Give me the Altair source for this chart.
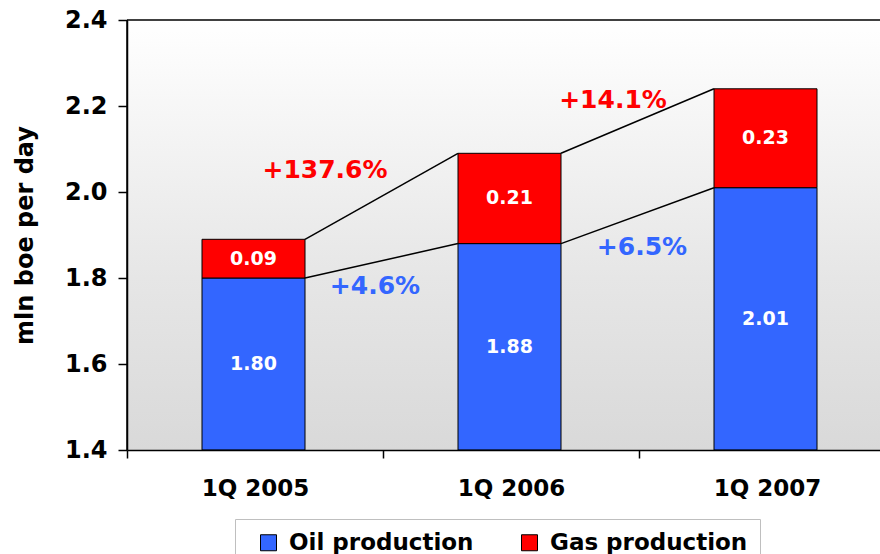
import altair as alt
import pandas as pd

# Production by quarter, mln boe per day
periods = ["1Q 2005", "1Q 2006", "1Q 2007"]
oil = [1.80, 1.88, 2.01]
gas = [0.09, 0.21, 0.23]
series_names = ["Oil production", "Gas production"]
y_ticks = [1.4, 1.6, 1.8, 2.0, 2.2, 2.4]

# Year-on-year growth callouts
gas_growth = ["+137.6%", "+14.1%"]
oil_growth = ["+4.6%", "+6.5%"]

Y_MIN, Y_MAX = 1.4, 2.4
BLUE = "#3366FF"
RED = "#FF0000"
FONT = "DejaVu Sans"
PLOT_W, PLOT_H = 753, 430
BAND_SPAN = 768          # three 256 px bands, the last one runs past the page edge
BAR_W = 103

rows = []
for p, o, g in zip(periods, oil, gas):
    rows.append(dict(period=p, series=series_names[0], lo=Y_MIN, hi=o,
                     label=f"{o:.2f}", mid=(Y_MIN + o) / 2))
    rows.append(dict(period=p, series=series_names[1], lo=o, hi=o + g,
                     label=f"{g:.2f}", mid=o + g / 2))
bars_df = pd.DataFrame(rows)

links = []
for i in range(len(periods) - 1):
    links.append(dict(p0=periods[i], p1=periods[i + 1], y0=oil[i], y1=oil[i + 1]))
    links.append(dict(p0=periods[i], p1=periods[i + 1],
                      y0=oil[i] + gas[i], y1=oil[i + 1] + gas[i + 1]))
links_df = pd.DataFrame(links)

x_scale = alt.Scale(domain=periods, range=[0, BAND_SPAN], paddingInner=0, paddingOuter=0)
y_scale = alt.Scale(domain=[Y_MIN, Y_MAX], nice=False, zero=False)

x_axis = alt.Axis(
    tickBand="extent", labelAngle=0, title=None, zindex=1,
    labelFont=FONT, labelFontSize=23, labelFontWeight="bold", labelColor="black",
    labelPadding=19, domainColor="black", domainWidth=1.5,
    tickColor="black", tickSize=8, tickWidth=1.5,
)
y_axis = alt.Axis(
    values=y_ticks, format=".1f", grid=False, zindex=1,
    labelFont=FONT, labelFontSize=24, labelFontWeight="bold", labelColor="black",
    labelPadding=11, domainColor="black", domainWidth=1.5,
    tickColor="black", tickSize=9, tickWidth=1.5,
    title="mln boe per day", titleFont=FONT, titleFontSize=24,
    titleFontWeight="bold", titleColor="black", titlePadding=27,
)

X = alt.X("period:N", scale=x_scale, axis=x_axis, title=None)

# plot-area shading, white at the top fading to light grey
background = alt.Chart(pd.DataFrame({"k": [0]})).mark_rect(
    color=alt.LinearGradient(
        gradient="linear", x1=0, x2=0, y1=0, y2=1,
        stops=[alt.GradientStop(color="#ffffff", offset=0),
               alt.GradientStop(color="#e6e6e6", offset=0.6),
               alt.GradientStop(color="#d9d9d9", offset=1)],
    )
).encode(x=alt.value(0), x2=alt.value(PLOT_W), y=alt.value(0), y2=alt.value(PLOT_H))

# frame lines: top edge and left edge of the plot area
top_line = alt.Chart(pd.DataFrame({"v": [Y_MAX]})).mark_rule(
    color="black", strokeWidth=1.5
).encode(y=alt.Y("v:Q", scale=y_scale, axis=y_axis))

left_line = alt.Chart(pd.DataFrame({"lo": [Y_MIN], "hi": [Y_MAX]})).mark_rule(
    color="black", strokeWidth=1.5
).encode(x=alt.value(0), y=alt.Y("lo:Q", scale=y_scale, axis=y_axis), y2="hi:Q")

bars = alt.Chart(bars_df).mark_bar(
    size=BAR_W, stroke="black", strokeWidth=1, xOffset=-1.5
).encode(
    x=X,
    y=alt.Y("lo:Q", scale=y_scale, axis=y_axis),
    y2="hi:Q",
    color=alt.Color(
        "series:N",
        scale=alt.Scale(domain=series_names, range=[BLUE, RED]),
        legend=alt.Legend(
            title=None, orient="none", legendX=108, legendY=499,
            direction="horizontal", symbolType="square", symbolSize=256,
            symbolStrokeColor="black", symbolStrokeWidth=1,
            labelFont=FONT, labelFontSize=23, labelFontWeight="bold",
            labelColor="black", labelOffset=9, labelLimit=400,
            columnPadding=34, padding=12, symbolOffset=10,
            strokeColor="#bfbfbf", fillColor="white",
        ),
    ),
)

connectors = alt.Chart(links_df).mark_rule(
    color="black", strokeWidth=1.5, xOffset=BAR_W / 2 - 1.5, x2Offset=-BAR_W / 2 - 1.5
).encode(
    x=alt.X("p0:N", scale=x_scale, axis=x_axis, title=None),
    x2="p1:N",
    y=alt.Y("y0:Q", scale=y_scale, axis=y_axis),
    y2="y1:Q",
)

bar_labels = alt.Chart(bars_df).mark_text(
    color="white", font=FONT, fontSize=19, fontWeight="bold", dx=-1.5
).encode(x=X, y=alt.Y("mid:Q", scale=y_scale, axis=y_axis), text="label:N")


def growth_label(text, period, level, color, dx):
    df = pd.DataFrame({"period": [period], "level": [level], "text": [text]})
    return alt.Chart(df).mark_text(
        color=color, font=FONT, fontSize=25, fontWeight="bold", dx=dx
    ).encode(x=X, y=alt.Y("level:Q", scale=y_scale, axis=y_axis), text="text:N")


callouts = [
    growth_label(gas_growth[0], periods[0], 2.051, RED, 70),
    growth_label(oil_growth[0], periods[0], 1.781, BLUE, 120),
    growth_label(gas_growth[1], periods[1], 2.215, RED, 102),
    growth_label(oil_growth[1], periods[1], 1.873, BLUE, 131),
]

chart = alt.layer(
    background, top_line, left_line, bars, connectors, bar_labels, *callouts
).properties(
    width=PLOT_W, height=PLOT_H,
    autosize=alt.AutoSizeParams(type="none"),
    padding={"left": 127, "top": 20, "right": 0, "bottom": 104},
    background="white",
).configure_view(stroke=None)

chart.save("out.html", embed_options={"renderer": "svg", "actions": False})
